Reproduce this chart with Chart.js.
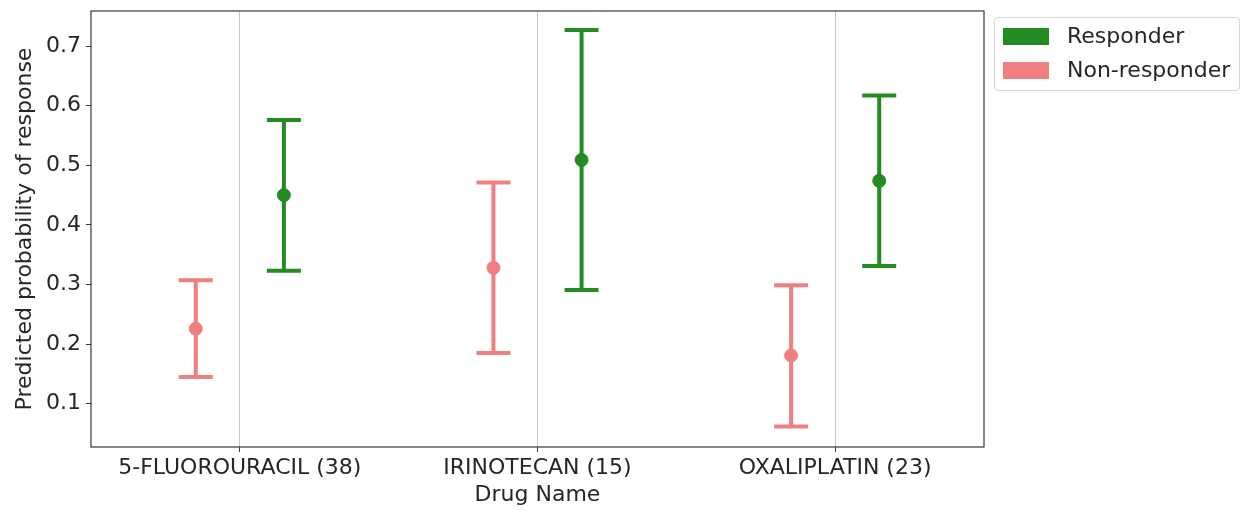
<!DOCTYPE html>
<html>
<head>
<meta charset="utf-8">
<script src="https://cdn.jsdelivr.net/npm/chart.js@4/dist/chart.umd.min.js"></script>
<style>
  body { margin: 0; background: #fff; font-family: "DejaVu Sans", sans-serif; }
  #wrap { position: relative; width: 1244px; height: 512px; }
  #legend {
    position: absolute; left: 994px; top: 17px; width: 246px; height: 74px;
    border: 1px solid #d6d6d6; border-radius: 4px; box-sizing: border-box;
  }
  .item { position: absolute; left: 8px; height: 18px; color: #262626; font-size: 22px; }
  .item .patch { position: absolute; left: 0; top: 0; width: 46px; height: 17px; }
  .item span { position: absolute; left: 64px; top: -5px; white-space: nowrap; }
</style>
</head>
<body>
<div id="wrap">
  <canvas id="plot" width="1244" height="512"></canvas>
  <div id="legend">
    <div class="item" style="top:10px"><div class="patch" style="background:#228b22"></div><span>Responder</span></div>
    <div class="item" style="top:44px"><div class="patch" style="background:#f08080"></div><span>Non-responder</span></div>
  </div>
</div>
<script>
// drugs on the x axis
const drugs = ["5-FLUOROURACIL (38)", "IRINOTECAN (15)", "OXALIPLATIN (23)"];

// predicted probability: mean and 95% interval per drug
const responderMean = [0.450, 0.509, 0.474];
const responderLow  = [0.323, 0.291, 0.331];
const responderHigh = [0.576, 0.727, 0.617];

const nonResponderMean = [0.226, 0.328, 0.181];
const nonResponderLow  = [0.145, 0.185, 0.062];
const nonResponderHigh = [0.307, 0.471, 0.299];

const yTicks = [0.1, 0.2, 0.3, 0.4, 0.5, 0.6, 0.7];

const dodge = 0.148;
const GREEN = "#228b22";
const CORAL = "#f08080";
const FONT = { family: "DejaVu Sans", size: 22 };

function points(mean, low, high, shift) {
  return mean.map((m, i) => ({ x: i + shift, y: m, lo: low[i], hi: high[i] }));
}

// vertical whiskers with caps, drawn under the markers
const errorBars = {
  id: "errorBars",
  beforeDatasetsDraw(chart) {
    const { ctx, scales: { x, y } } = chart;
    ctx.save();
    ctx.lineWidth = 4;
    ctx.lineCap = "butt";
    chart.data.datasets.forEach(ds => {
      ctx.strokeStyle = ds.backgroundColor;
      ds.data.forEach(p => {
        const px = x.getPixelForValue(p.x);
        const top = y.getPixelForValue(p.hi);
        const bot = y.getPixelForValue(p.lo);
        ctx.beginPath();
        ctx.moveTo(px, top); ctx.lineTo(px, bot);
        ctx.moveTo(px - 17, top); ctx.lineTo(px + 17, top);
        ctx.moveTo(px - 17, bot); ctx.lineTo(px + 17, bot);
        ctx.stroke();
      });
    });
    ctx.restore();
  }
};

// closed box around the plotting area
const frame = {
  id: "frame",
  afterDraw(chart) {
    const { ctx, chartArea: a } = chart;
    ctx.save();
    ctx.strokeStyle = "#3a3a3a";
    ctx.lineWidth = 1.2;
    ctx.strokeRect(a.left, a.top, a.right - a.left, a.bottom - a.top);
    ctx.restore();
  }
};

new Chart(document.getElementById("plot"), {
  type: "scatter",
  data: {
    datasets: [
      { label: "Non-responder", data: points(nonResponderMean, nonResponderLow, nonResponderHigh, -dodge),
        backgroundColor: CORAL, borderColor: CORAL, pointRadius: 6.5, pointHoverRadius: 6.5 },
      { label: "Responder", data: points(responderMean, responderLow, responderHigh, dodge),
        backgroundColor: GREEN, borderColor: GREEN, pointRadius: 6.5, pointHoverRadius: 6.5 }
    ]
  },
  options: {
    responsive: false,
    animation: false,
    layout: { padding: { top: 11, right: 260, left: 0, bottom: 0 } },
    plugins: { legend: { display: false }, tooltip: { enabled: false } },
    scales: {
      x: {
        type: "linear", min: -0.5, max: 2.5,
        afterBuildTicks: s => { s.ticks = drugs.map((_, i) => ({ value: i })); },
        afterFit: s => { s.height = 65; s.paddingLeft = 0; s.paddingRight = 0; },
        ticks: { callback: v => drugs[v], color: "#262626", font: FONT, padding: 3, maxRotation: 0 },
        grid: { color: "#c4c4c4", lineWidth: 1, tickLength: 5, tickColor: "#3a3a3a" },
        border: { display: false },
        title: { display: true, text: "Drug Name", color: "#262626", font: FONT, padding: { top: 2 } }
      },
      y: {
        min: 0.0275, max: 0.7588,
        afterBuildTicks: s => { s.ticks = yTicks.map(v => ({ value: v })); },
        afterFit: s => { s.width = 91; s.paddingTop = 0; s.paddingBottom = 0; },
        ticks: { callback: v => v.toFixed(1), color: "#262626", font: FONT, padding: 5 },
        grid: { drawOnChartArea: false, tickLength: 5, tickColor: "#3a3a3a" },
        border: { display: false },
        title: { display: true, text: "Predicted probability of response", color: "#262626", font: FONT, padding: { bottom: 0, top: 12 } }
      }
    }
  },
  plugins: [errorBars, frame]
});
</script>
</body>
</html>
